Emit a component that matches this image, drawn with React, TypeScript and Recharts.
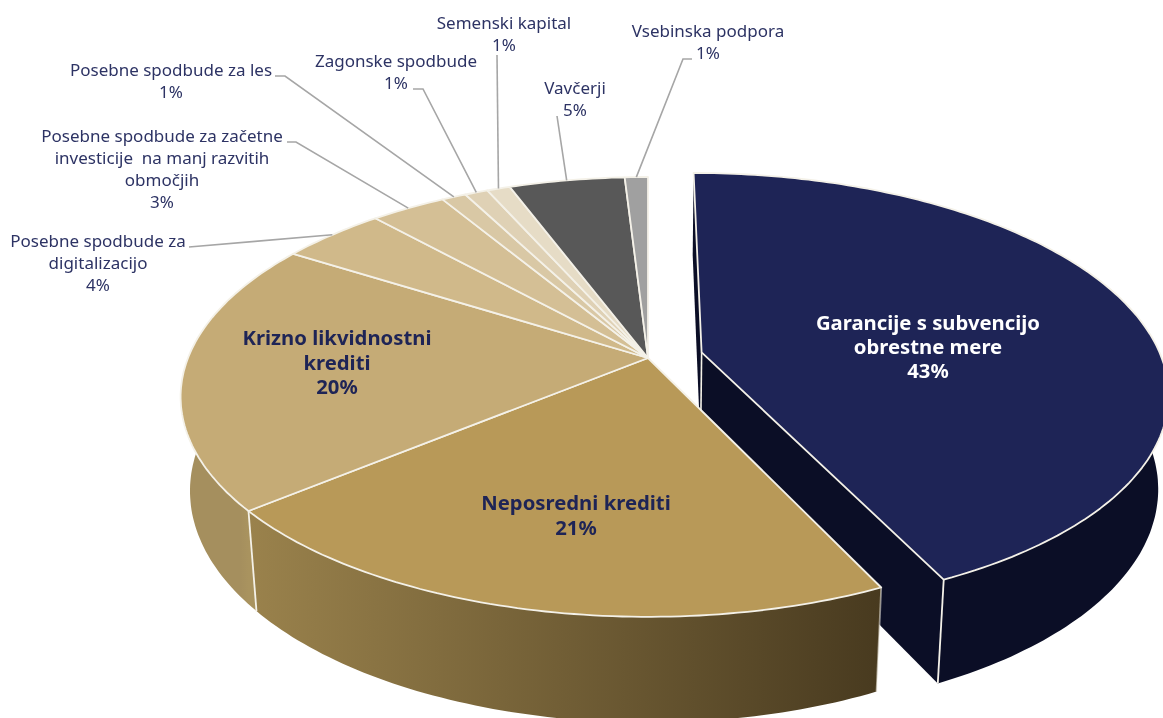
import React from "react";
import { PieChart, Pie } from "recharts";

const names = [
  "Garancije s subvencijo obrestne mere",
  "Neposredni krediti",
  "Krizno likvidnostni krediti",
  "Posebne spodbude za digitalizacijo",
  "Posebne spodbude za začetne investicije na manj razvitih območjih",
  "Posebne spodbude za les",
  "Zagonske spodbude",
  "Semenski kapital",
  "Vavčerji",
  "Vsebinska podpora",
];
const values = [43, 21, 20, 4.3, 3.1, 1, 0.95, 0.95, 4.75, 0.95];
const shownPercents = ["43%", "21%", "20%", "4%", "3%", "1%", "1%", "1%", "5%", "1%"];
const faceColors = ["#1e2456", "#b89958", "#c5ab76", "#d0b98a", "#d4bf95", "#d9c8a5", "#dfd1b5", "#e6dcc6", "#585858", "#a0a0a0"];
const wallStops = [
  ["#0b0e26", "#0b0e26"],
  ["#9a824c", "#483a1f"],
  ["#a58f5e", "#a9935f"],
];
const labelLines = [
  ["Garancije s subvencijo", "obrestne mere", "43%"],
  ["Neposredni krediti", "21%"],
  ["Krizno likvidnostni", "krediti", "20%"],
  ["Posebne spodbude za", "digitalizacijo", "4%"],
  ["Posebne spodbude za začetne", "investicije  na manj razvitih", "območjih", "3%"],
  ["Posebne spodbude za les", "1%"],
  ["Zagonske spodbude", "1%"],
  ["Semenski kapital", "1%"],
  ["Vavčerji", "5%"],
  ["Vsebinska podpora", "1%"],
];

const data = names.map((name, i) => ({ name, value: values[i], shown: shownPercents[i], lines: labelLines[i], fill: faceColors[i] }));

// label layout: centre x, first baseline, line step, leader start points
const labelLayout = [
  { x: 928, y: 330, step: 24, bold: true, color: "#ffffff", leader: null },
  { x: 576, y: 510, step: 25, bold: true, color: "#1e2456", leader: null },
  { x: 337, y: 345, step: 24.5, bold: true, color: "#1e2456", leader: null },
  { x: 98, y: 247, step: 22, leader: [[189, 247]] },
  { x: 162, y: 142, step: 22, leader: [[287, 142], [296, 142]] },
  { x: 171, y: 76, step: 22, leader: [[275, 76], [285, 76]] },
  { x: 396, y: 67, step: 22, leader: [[413, 89], [423, 89]] },
  { x: 504, y: 29, step: 22, leader: [[497, 55]] },
  { x: 575, y: 94, step: 22, leader: [[557, 116]] },
  { x: 708, y: 37, step: 22, leader: [[692, 59], [683, 59]] },
];

const TILT = 213 / 460;
const PERSP = 0.177;
const EXPLODE = 0.12;
const DEPTH = 92;
const DEPTH_GROW = 0.053;
const SHRINK = 0.98;
const RAD = Math.PI / 180;

type P = [number, number];

function project(cx: number, cy: number, R: number, u: number, v: number): P {
  const d = 1 + PERSP * v;
  return [cx + (R * u) / d, cy - (R * TILT * v) / d];
}
function lower(cx: number, cy: number, p: P): P {
  return [cx + SHRINK * (p[0] - cx), p[1] + DEPTH + DEPTH_GROW * (p[1] - cy)];
}
const toPath = (pts: P[]) => "M" + pts.map((p) => `${p[0].toFixed(1)},${p[1].toFixed(1)}`).join("L") + "Z";

function offsetFor(startAngle: number, endAngle: number, exploded: boolean): P {
  if (!exploded) return [0, 0];
  const m = ((startAngle + endAngle) / 2) * RAD;
  return [EXPLODE * Math.cos(m), EXPLODE * Math.sin(m)];
}

function Slice3D(props: any) {
  const { cx, cy, outerRadius: R, startAngle, endAngle, fill, payload, name } = props;
  const idx = names.indexOf(payload?.name ?? name);
  const exploded = idx === 0;
  const [ou, ov] = offsetFor(startAngle, endAngle, exploded);
  const pt = (a: number) => project(cx, cy, R, ou + Math.cos(a * RAD), ov + Math.sin(a * RAD));
  const arc = (a0: number, a1: number) => {
    const n = Math.max(2, Math.ceil(Math.abs(a1 - a0)));
    const out: P[] = [];
    for (let i = 0; i <= n; i++) out.push(pt(a0 + ((a1 - a0) * i) / n));
    return out;
  };
  const apex = project(cx, cy, R, ou, ov);
  const top = arc(startAngle, endAngle);
  const first = top[0];
  const last = top[top.length - 1];

  // Outer wall only on the part of the rim that faces the viewer.
  const wallStart = Math.min(startAngle, 20);
  const wallEnd = Math.max(endAngle, -200);
  const hasWall = wallStart > wallEnd;
  const wallTop = hasWall ? arc(wallStart, wallEnd) : [];
  const wallBottom = wallTop.map((p) => lower(cx, cy, p)).reverse();
  const stops = wallStops[idx] ?? ["#777", "#777"];
  const gradId = `wall-${idx}`;
  const edge = "#f4f1e8";
  const wallEdge = idx === 0 ? last : idx === 1 || idx === 2 ? first : null;
  const edgeOpacity = idx === 1 ? 0.55 : 1;

  return (
    <g>
      {hasWall && (
        <defs>
          <linearGradient id={gradId} gradientUnits="userSpaceOnUse" x1={wallTop[wallTop.length - 1][0]} y1={0} x2={wallTop[0][0]} y2={0}>
            <stop offset="0" stopColor={stops[0]} />
            <stop offset="1" stopColor={stops[1]} />
          </linearGradient>
        </defs>
      )}
      {exploded && (
        <>
          <path d={toPath([apex, first, lower(cx, cy, first), lower(cx, cy, apex)])} fill={stops[0]} stroke="none" />
          <path d={toPath([apex, last, lower(cx, cy, last), lower(cx, cy, apex)])} fill={stops[0]} stroke="none" />
          <line x1={apex[0]} y1={apex[1]} x2={lower(cx, cy, apex)[0]} y2={lower(cx, cy, apex)[1]} stroke={edge} strokeWidth={1.6} />
        </>
      )}
      {hasWall && <path d={toPath([...wallTop, ...wallBottom])} fill={`url(#${gradId})`} stroke="none" />}
      {wallEdge && (
        <line
          x1={wallEdge[0]}
          y1={wallEdge[1]}
          x2={lower(cx, cy, wallEdge)[0]}
          y2={lower(cx, cy, wallEdge)[1]}
          stroke={edge}
          strokeOpacity={edgeOpacity}
          strokeWidth={1.8}
        />
      )}
      <path d={toPath([apex, ...top])} fill={fill} stroke={edge} strokeWidth={1.8} strokeLinejoin="round" />
    </g>
  );
}

function SliceLabel(props: any) {
  const { cx, cy, outerRadius: R, midAngle, index } = props;
  const layout = labelLayout[index];
  const lines = labelLines[index];
  const bold = !!layout.bold;
  const leader = layout.leader;
  let leaderPts = "";
  if (leader) {
    const end = project(cx, cy, R, Math.cos(midAngle * RAD), Math.sin(midAngle * RAD));
    leaderPts = [...leader, end].map((p) => `${p[0]},${p[1]}`).join(" ");
  }
  return (
    <g>
      {leader && <polyline points={leaderPts} fill="none" stroke="#a6a6a6" strokeWidth={1.6} />}
      <text
        textAnchor="middle"
        fontFamily='"Noto Sans", sans-serif'
        fontWeight={bold ? 700 : 400}
        fontSize={bold ? 20.3 : 17}
        fill={layout.color ?? "#2d3364"}
      >
        {lines.map((t: string, i: number) => (
          <tspan key={i} x={layout.x} y={layout.y + i * layout.step} xmlSpace="preserve">
            {t}
          </tspan>
        ))}
      </text>
    </g>
  );
}

export default function App() {
  return (
    <div style={{ position: "absolute", left: 0, top: 0, width: 1163, height: 718, overflow: "hidden", background: "#fff", filter: "blur(0.4px)" }}>
      <PieChart width={1163} height={718} margin={{ top: 0, right: 0, bottom: 0, left: 0 }}>
        <Pie
          data={data}
          dataKey="value"
          nameKey="name"
          cx={648}
          cy={358}
          innerRadius={0}
          outerRadius={460}
          startAngle={90}
          endAngle={-270}
          paddingAngle={0}
          isAnimationActive={false}
          shape={Slice3D}
          label={SliceLabel}
          labelLine={false}
          stroke="none"
        />
      </PieChart>
    </div>
  );
}
